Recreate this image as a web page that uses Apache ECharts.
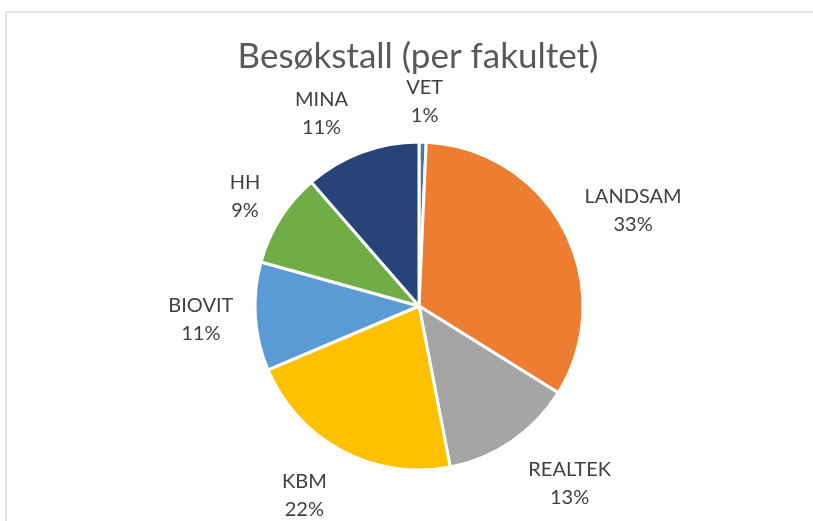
<!DOCTYPE html>
<html>
<head>
<meta charset="utf-8">
<script src="https://cdn.jsdelivr.net/npm/echarts@6/dist/echarts.min.js"></script>
<style>
  html, body { margin: 0; padding: 0; background: #fff; }
  #chart { width: 813px; height: 521px; }
</style>
</head>
<body>
<div id="chart"></div>
<script>
// fakulteter og andeler (les av bildet)
var faculties = ['VET', 'LANDSAM', 'REALTEK', 'KBM', 'BIOVIT', 'HH', 'MINA'];
var shares = [0.7, 33.2, 13.1, 21.7, 10.7, 9.3, 11.4];
var colors = ['#4472C4', '#ED7D31', '#A5A5A5', '#FFC000', '#5B9BD5', '#70AD47', '#264478'];

var pieData = faculties.map(function(name, i) {
    return { name: name, value: shares[i], itemStyle: { color: colors[i] } };
});

var myChart = echarts.init(document.getElementById('chart'));

myChart.setOption({
    animation: false,
    title: {
        text: 'Besøkstall (per fakultet)',
        left: 413,
        textAlign: 'center',
        top: 34,
        textStyle: { fontFamily: 'Lato', fontSize: 35, fontWeight: 'normal', color: '#595959' }
    },
    // ramme rundt diagramområdet
    graphic: [{
        type: 'polyline',
        shape: { points: [[6, 521], [6, 12], [813, 12]] },
        style: { stroke: '#d9d9d9', lineWidth: 1.5, fill: null },
        silent: true
    }],
    series: [{
        type: 'pie',
        center: [419, 306],
        radius: 164,
        startAngle: 90,
        clockwise: true,
        avoidLabelOverlap: false,
        percentPrecision: 0,
        itemStyle: { borderColor: '#fff', borderWidth: 3 },
        label: {
            position: 'outside',
            formatter: '{b}\n{d}%',
            fontFamily: 'Lato',
            fontSize: 20,
            lineHeight: 28,
            color: '#404040'
        },
        labelLine: { show: false, length: 13, length2: 0 },
        //标签居中放在扇区外侧
        labelLayout: function(p) {
            var pts = p.labelLinePoints;
            if (!pts) return {};
            var dx = pts[1][0] - pts[0][0], dy = pts[1][1] - pts[0][1];
            var len = Math.sqrt(dx * dx + dy * dy) || 1;
            dx /= len; dy /= len;
            var kx = Math.max(-1, Math.min(1, dx / 0.35));
            var w = p.labelRect.width + 18, h = p.labelRect.height;
            return {
                x: pts[1][0] + kx * w / 2,
                y: pts[1][1] + dy * h / 2 + Math.max(0, dy) * 10,
                align: 'center',
                verticalAlign: 'middle'
            };
        },
        data: pieData
    }]
});
</script>
</body>
</html>
